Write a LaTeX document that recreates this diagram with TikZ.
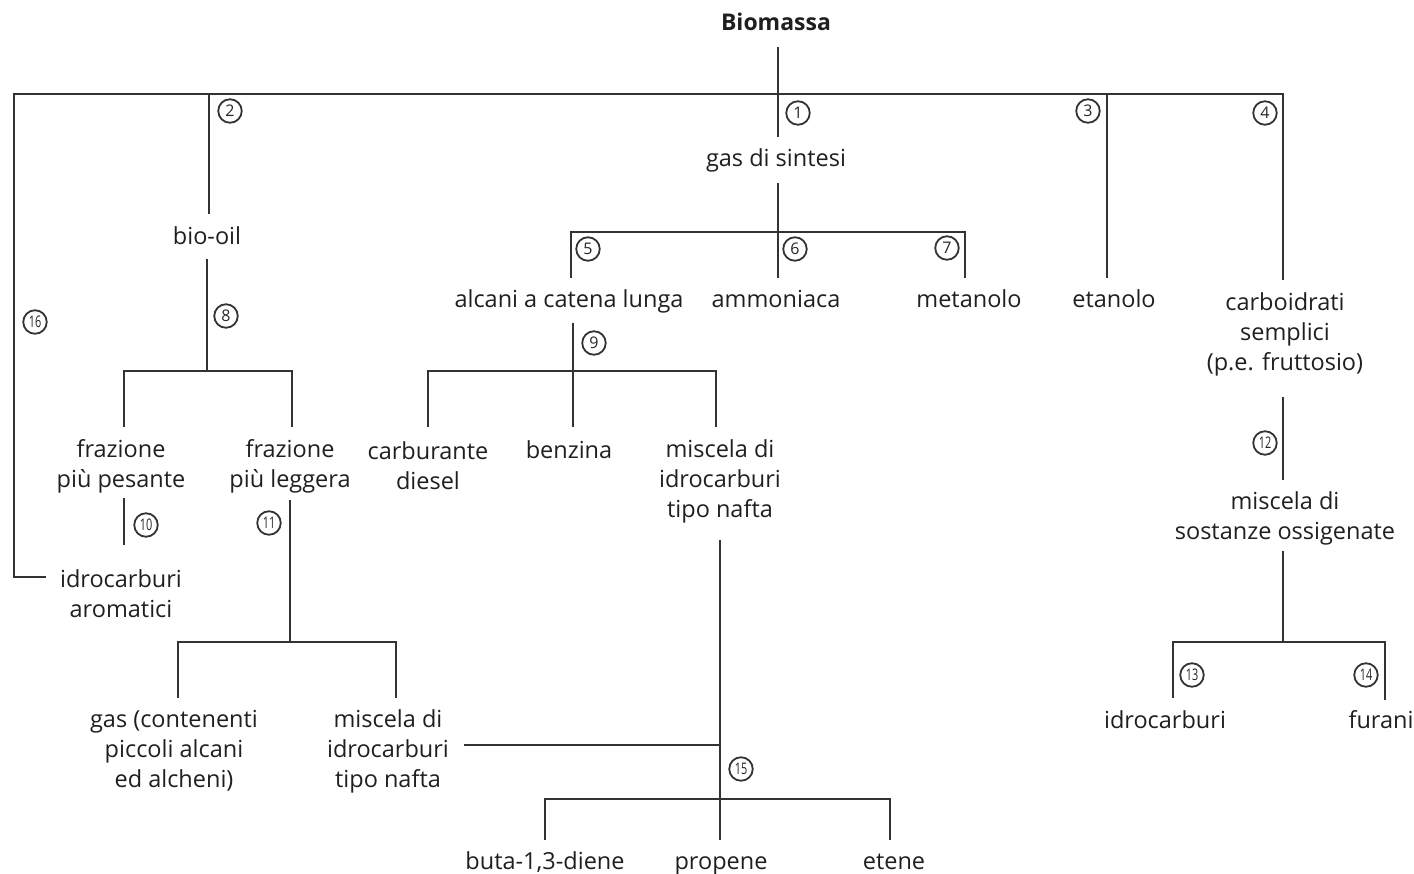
\documentclass[tikz,border=0pt]{standalone}
\usepackage{fontspec}
\setmainfont{Open Sans}
\begin{document}
\begin{tikzpicture}[x=1pt,y=-1pt,
  lbl/.style={inner sep=0pt, align=center, font=\fontsize{23.5}{30}\selectfont, text=black!88},
  one/.style={lbl, text height=16.5pt, text depth=0pt},
  num/.style={circle, draw=black!80, line width=1.8pt, minimum size=23.5pt, inner sep=0pt, font=\fontsize{16}{16}\selectfont, text=black!85},
  conn/.style={line width=2.3pt, draw=black!80}]
\useasboundingbox (0,0) rectangle (1414,874);
% text nodes
\node[one, font=\bfseries\fontsize{23}{30}\selectfont] (bio) at (776,22) {Biomassa};
\node[one] (gs) at (776,158) {gas di sintesi};
\node[one] (biooil) at (207,236) {bio-oil};
\node[one] (alc) at (569,299) {alcani a catena lunga};
\node[one] (amm) at (776,299) {ammoniaca};
\node[one] (met) at (969,299) {metanolo};
\node[one] (eta) at (1114,299) {etanolo};
\node[lbl] (carb) at (1285,334) {carboidrati\\semplici\\(p.e. fruttosio)};
\node[lbl] (fp) at (121,466) {frazione\\più pesante};
\node[lbl] (fl) at (290,466) {frazione\\più leggera};
\node[lbl] (cd) at (428,466) {carburante\\diesel};
\node[one] (benz) at (569,450) {benzina};
\node[lbl] (mn1) at (720,481) {miscela di\\idrocarburi\\tipo nafta};
\node[lbl] (aro) at (121,594) {idrocarburi\\aromatici};
\node[lbl] (gasc) at (174,751) {gas (contenenti\\piccoli alcani\\ed alcheni)};
\node[lbl] (mn2) at (388,751) {miscela di\\idrocarburi\\tipo nafta};
\node[lbl] (mso) at (1285,518) {miscela di\\sostanze ossigenate};
\node[one] (idr) at (1165,720) {idrocarburi};
\node[one] (fur) at (1381,720) {furani};
\node[one] (but) at (545,861) {buta-1,3-diene};
\node[one] (prop) at (721,861) {propene};
\node[one] (ete) at (894,861) {etene};
% junction coordinates
\coordinate (topL) at (14,94);
\coordinate (topR) at (1283,94);
\coordinate (j2) at (209,94);
\coordinate (j3) at (1107,94);
\coordinate (b5) at (778,232);
\coordinate (b8) at (207,371);
\coordinate (b9) at (573,371);
\coordinate (b11) at (290,642);
\coordinate (j15) at (720,745);
\coordinate (b15) at (720,799);
\coordinate (b12) at (1283,642);
% connectors
\draw[conn] ([shift={(2pt,-25pt)}]bio.center) -- ([shift={(2pt,21pt)}]gs.center);
\draw[conn] ([shift={(-14pt,17pt)}]aro.west) -| (topL) -- (topR) -- ([shift={(-2pt,54pt)}]carb.center);
\draw[conn] (j2) -- ([shift={(2pt,22pt)}]biooil.center);
\draw[conn] (j3) -- ([shift={(-7pt,21pt)}]eta.center);
\draw[conn] ([shift={(2pt,-25pt)}]gs.center) -- ([shift={(2pt,21pt)}]amm.center);
\draw[conn] ([shift={(2pt,21pt)}]alc.center) |- (b5) -| ([shift={(-4pt,21pt)}]met.center);
\draw[conn] ([yshift=-23pt]biooil.center) -- (b8);
\draw[conn] ([shift={(3pt,39pt)}]fp.center) |- (b8) -| ([shift={(2pt,39pt)}]fl.center);
\draw[conn] ([shift={(3pt,-32pt)}]fp.center) -- ([shift={(3pt,49pt)}]aro.center);
\draw[conn] ([yshift=-34pt]fl.center) -- (b11);
\draw[conn] ([shift={(4pt,53pt)}]gasc.center) |- (b11) -| ([shift={(8pt,53pt)}]mn2.center);
\draw[conn] ([shift={(15pt,6pt)}]mn2.east) -- (j15);
\draw[conn] ([yshift=-59pt]mn1.center) -- ([shift={(-1pt,21pt)}]prop.center);
\draw[conn] ([yshift=21pt]but.center) |- (b15) -| ([shift={(-4pt,21pt)}]ete.center);
\draw[conn] ([shift={(4pt,-24pt)}]alc.center) -- ([shift={(4pt,23pt)}]benz.center);
\draw[conn] ([yshift=39pt]cd.center) |- (b9) -| ([shift={(-4pt,54pt)}]mn1.center);
\draw[conn] ([shift={(-2pt,-63pt)}]carb.center) -- ([shift={(-2pt,38pt)}]mso.center);
\draw[conn] ([shift={(-2pt,-33pt)}]mso.center) -- (b12);
\draw[conn] ([shift={(8pt,22pt)}]idr.center) |- (b12) -| ([shift={(4pt,20pt)}]fur.center);
% step numbers
\node[num] (n1) at (798,113) {1};
\node[num] (n2) at (230,111) {2};
\node[num] (n3) at (1088,111) {3};
\node[num] (n4) at (1265,113) {4};
\node[num] (n5) at (588,249) {5};
\node[num] (n6) at (795,249) {6};
\node[num] (n7) at (947,248) {7};
\node[num] (n8) at (226,316) {8};
\node[num] (n9) at (594,343) {9};
\node[num] (n10) at (146,525) {\scalebox{0.68}[1]{10}};
\node[num] (n11) at (269,523) {\scalebox{0.68}[1]{11}};
\node[num] (n12) at (1265,443) {\scalebox{0.68}[1]{12}};
\node[num] (n13) at (1192,675) {\scalebox{0.68}[1]{13}};
\node[num] (n14) at (1366,675) {\scalebox{0.68}[1]{14}};
\node[num] (n15) at (741,769) {\scalebox{0.68}[1]{15}};
\node[num] (n16) at (35,322) {\scalebox{0.68}[1]{16}};
\end{tikzpicture}
\end{document}
